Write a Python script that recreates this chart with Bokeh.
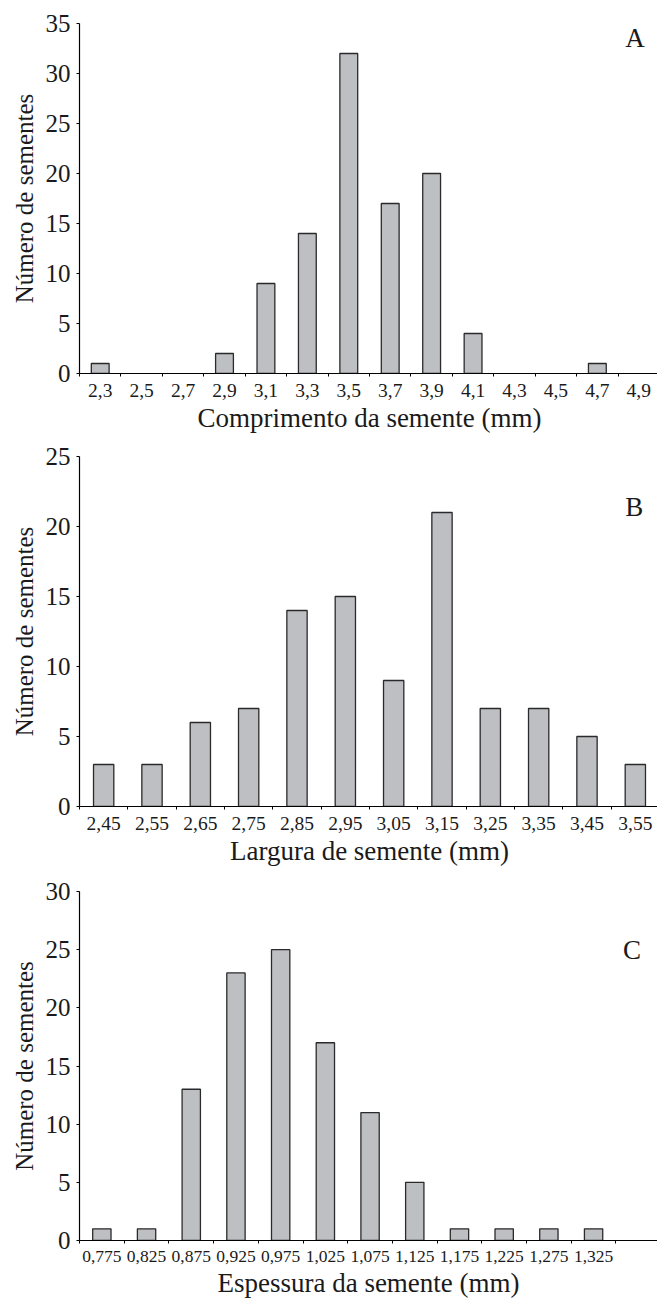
from bokeh.plotting import figure
from bokeh.models import FixedTicker, Label, ColumnDataSource
from bokeh.layouts import column
from bokeh.embed import file_html
from bokeh.resources import INLINE

# ---- data ----
len_labels = ["2,3", "2,5", "2,7", "2,9", "3,1", "3,3", "3,5", "3,7", "3,9", "4,1", "4,3", "4,5", "4,7", "4,9"]
len_counts = [1, 0, 0, 2, 9, 14, 32, 17, 20, 4, 0, 0, 1, 0]

wid_labels = ["2,45", "2,55", "2,65", "2,75", "2,85", "2,95", "3,05", "3,15", "3,25", "3,35", "3,45", "3,55"]
wid_counts = [3, 3, 6, 7, 14, 15, 9, 21, 7, 7, 5, 3]

thk_labels = ["0,775", "0,825", "0,875", "0,925", "0,975", "1,025", "1,075", "1,125", "1,175", "1,225", "1,275", "1,325"]
thk_counts = [1, 1, 13, 23, 25, 17, 11, 5, 1, 1, 1, 1]

FONT = "Liberation Serif"
FILL = "#bebfc3"
EDGE = "#2a2a2a"
TXT = "#1a1a1a"
W = 657


def panel(labels, counts, ymax, xend, letter, lx, ly, xlabel, left, top, fh, bottom, tick_fs, bar_w):
    n = len(labels)
    xs = list(range(1, n + 1))
    p = figure(frame_width=W - left, frame_height=fh, x_range=(0.5, xend), y_range=(0, ymax),
               output_backend="svg", toolbar_location=None,
               min_border_left=left, min_border_right=0, min_border_top=top, min_border_bottom=bottom)
    p.outline_line_color = None
    p.xgrid.visible = False
    p.ygrid.visible = False
    p.background_fill_color = "white"
    p.border_fill_color = "white"

    bx = [x for x, c in zip(xs, counts) if c > 0]
    bt = [c for c in counts if c > 0]
    src = ColumnDataSource(dict(x=bx, top=bt))
    p.vbar(x="x", top="top", width=bar_w, source=src, fill_color=FILL, line_color=EDGE, line_width=1.3)

    xa = p.xaxis[0]
    xa.ticker = FixedTicker(ticks=xs, minor_ticks=[i + 0.5 for i in range(n + 1)])
    xa.major_label_overrides = {i + 1: lab for i, lab in enumerate(labels)}
    xa.major_tick_line_color = None
    xa.minor_tick_line_color = "black"
    xa.minor_tick_out = 3
    xa.minor_tick_in = 0
    xa.axis_line_color = "black"
    xa.axis_line_width = 1.2
    xa.major_label_text_font = FONT
    xa.major_label_text_font_size = f"{tick_fs}px"
    xa.major_label_text_color = TXT
    xa.major_label_standoff = 4
    xa.axis_label = xlabel
    xa.axis_label_text_font = FONT
    xa.axis_label_text_font_style = "normal"
    xa.axis_label_text_font_size = "27px"
    xa.axis_label_text_color = TXT
    xa.axis_label_standoff = 3

    ya = p.yaxis[0]
    ya.ticker = FixedTicker(ticks=list(range(0, ymax + 1, 5)))
    ya.major_tick_out = 3
    ya.major_tick_in = 0
    ya.minor_tick_line_color = None
    ya.axis_line_color = "black"
    ya.axis_line_width = 1.2
    ya.major_label_text_font = FONT
    ya.major_label_text_font_size = "25px"
    ya.major_label_text_color = TXT
    ya.major_label_standoff = 6
    ya.axis_label = "Número de sementes"
    ya.axis_label_text_font = FONT
    ya.axis_label_text_font_style = "normal"
    ya.axis_label_text_font_size = "25px"
    ya.axis_label_text_color = TXT
    ya.axis_label_standoff = 5

    p.add_layout(Label(x=lx, y=ly, text=letter, text_font=FONT, text_font_size="27px",
                       text_align="center", text_baseline="middle", text_color=TXT))
    return p


pA = panel(len_labels, len_counts, 35, 14.5, "A", 13.91, 33.6,
           "Comprimento da semente (mm)", 77, 23, 350, 60, 19.5, 0.43)
pB = panel(wid_labels, wid_counts, 25, 12.5, "B", 11.98, 21.36,
           "Largura de semente (mm)", 77, 21, 350, 63, 19.5, 0.42)
pC = panel(thk_labels, thk_counts, 30, 13.43, "C", 12.86, 24.96,
           "Espessura da semente (mm)", 79, 22, 349, 58, 17.5, 0.41)

layout = column(pA, pB, pC, spacing=0)
open("out.html", "w").write(file_html(layout, INLINE))
